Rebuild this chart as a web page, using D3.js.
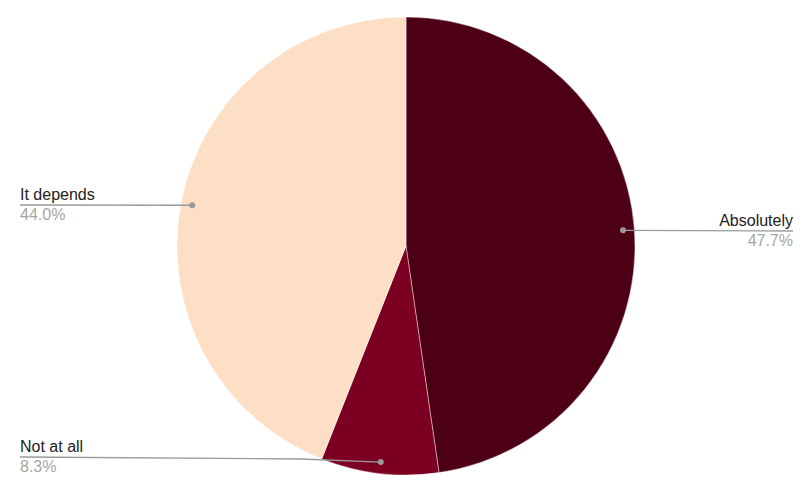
<!DOCTYPE html>
<html><head><meta charset="utf-8">
<script src="https://cdn.jsdelivr.net/npm/d3@7"></script>
<style>body{margin:0;background:#fff;}svg{display:block;font-family:"Liberation Sans",Arial,sans-serif;}</style>
</head><body>
<svg id="c" width="806" height="492"></svg>
<script>
const categories = ["Absolutely", "Not at all", "It depends"];
const values = [47.7, 8.3, 44.0];
const percentLabels = ["47.7%", "8.3%", "44.0%"];
const colors = ["#4d0015", "#7c0021", "#fddfc5"];

const W = 806, H = 492, cx = 406, cy = 246, R = 229;
const svg = d3.select("#c");
const g = svg.append("g").attr("transform", `translate(${cx},${cy})`);

const pie = d3.pie().sort(null).value(d => d)(values);
const arc = d3.arc().innerRadius(0).outerRadius(R);
g.selectAll("path.slice").data(pie).enter().append("path")
  .attr("class", "slice")
  .attr("d", arc)
  .attr("fill", (d, i) => colors[i])
  .attr("stroke", "#ffffff").attr("stroke-width", 0.7).attr("stroke-opacity", 0.6);

const dotArc = d3.arc().innerRadius(R * 0.95).outerRadius(R * 0.95);
// label anchors: side and line y
const labelCfg = [
  {side: "right", x: 793, y: 231},
  {side: "left", x: 20, y: 457},
  {side: "left", x: 20, y: 205}
];

pie.forEach((d, i) => {
  const [px, py] = dotArc.centroid(d);
  const dx = cx + px, dy = cy + py;
  const c = labelCfg[i];
  let path;
  if (i === 1) {
    path = `M${c.x},${c.y} L${dx - 80},${c.y + 2} L${dx},${dy}`;
  } else {
    path = `M${c.x},${c.y} L${dx},${dy}`;
  }
  svg.append("path").attr("d", path).attr("fill", "none")
    .attr("stroke", "#9a9a9a").attr("stroke-width", 1.3);
  svg.append("circle").attr("cx", dx).attr("cy", dy).attr("r", 3).attr("fill", "#9a9a9a");
  const anchor = c.side === "right" ? "end" : "start";
  svg.append("text").attr("x", c.x).attr("y", c.y - 5)
    .attr("text-anchor", anchor).attr("font-size", 16).attr("fill", "#222")
    .text(categories[i]);
  svg.append("text").attr("x", c.x).attr("y", c.y + 15)
    .attr("text-anchor", anchor).attr("font-size", 16).attr("fill", "#a6a6a6")
    .text(percentLabels[i]);
});
</script>
</body></html>
